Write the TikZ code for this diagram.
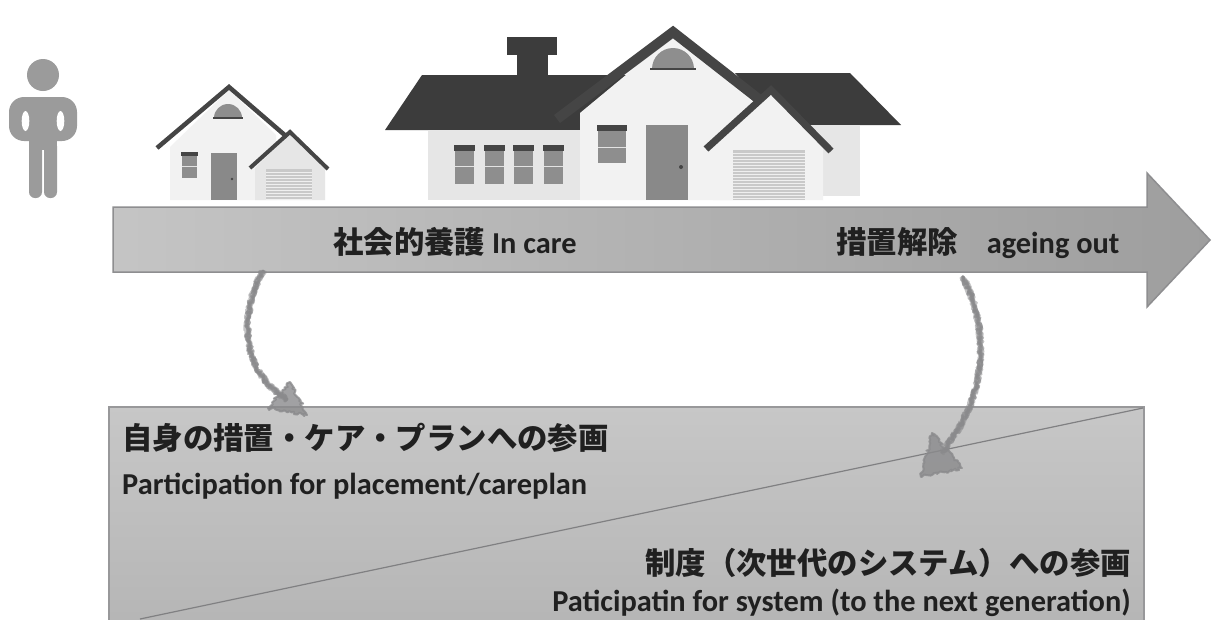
\documentclass[tikz,border=0pt]{standalone}
\usepackage{fontspec}
\setmainfont{Carlito}
\newfontfamily\jp{Noto Sans CJK JP}
\usetikzlibrary{decorations.pathmorphing}

\definecolor{inkc}{HTML}{202020}
\definecolor{personc}{HTML}{9B9B9B}
\definecolor{roofc}{HTML}{454545}
\definecolor{roofdk}{HTML}{3C3C3C}
\definecolor{wallc}{HTML}{F2F2F2}
\definecolor{walldk}{HTML}{E6E6E6}
\definecolor{winc}{HTML}{8E8E8E}
\definecolor{doorc}{HTML}{898989}
\definecolor{garc}{HTML}{C9C9C9}
\definecolor{arrowline}{HTML}{8E8E90}
\definecolor{boxline}{HTML}{98989A}
\definecolor{chalkc}{HTML}{8A8A8C}

\tikzset{
  txt/.style={font=\fontsize{30.4}{36}\selectfont\bfseries, text=inkc, inner sep=0pt},
  roofline/.style={draw=roofc, line join=miter},
  chalk/.style={draw=chalkc, line width=2.6pt, opacity=0.5, line cap=round, line join=round,
    decorate, decoration={random steps, segment length=2.2pt, amplitude=3pt}},
  chalkhead/.style={fill=chalkc, draw=chalkc, line width=2pt, opacity=0.8, line join=round,
    decorate, decoration={random steps, segment length=2pt, amplitude=1.8pt}},
}

\begin{document}
\begin{tikzpicture}[x=1pt,y=-1pt]
\useasboundingbox (0,0) rectangle (1212,619);
\fill[white] (0,0) rectangle (1212,619);

% ---------- person ----------
\fill[personc] (43,75) circle (16);
\fill[personc, rounded corners=15] (9,97) rectangle (77,141);
\fill[white] (25.5,121) ellipse (3.8 and 10);
\fill[white] (60.5,121) ellipse (3.8 and 10);
\fill[personc] (29,130) rectangle (57,150);
\fill[personc, rounded corners=6] (29,140) rectangle (42,198);
\fill[personc, rounded corners=6] (44,140) rectangle (57,198);

% ---------- small house ----------
\fill[wallc] (170,200) -- (170,147) -- (229,90) -- (276,135) -- (276,200) -- cycle;
\fill[walldk] (255,200) -- (255,168) -- (290,134) -- (325,168) -- (325,200) -- cycle;
\draw[roofline, line width=4.5] (157,148) -- (229,87) -- (287,137);
\draw[roofline, line width=4] (250,168) -- (290,132) -- (328,169);
\fill[winc] (214,118) arc (180:360:14) -- cycle;
\draw[roofc, line width=2] (213,118) -- (243,118);
\fill[winc] (182,155) rectangle (197,178);
\draw[white!75!winc, line width=0.8] (182,166) -- (197,166);
\fill[roofc] (181,152) rectangle (198,156);
\fill[doorc] (211,153) rectangle (237,200);
\fill[roofc] (232,179) circle (1.4);
\fill[garc] (266,169) rectangle (312,200);
\foreach \yy in {172,175,...,199} \draw[white!70!garc, line width=0.6] (266,\yy) -- (312,\yy);

% ---------- large house ----------
\fill[roofdk] (385,130) -- (422,75) -- (645,75) -- (605,130) -- cycle;
\fill[roofdk] (735,73) -- (850,73) -- (901,125) -- (780,125) -- cycle;
\fill[roofdk] (517,53) rectangle (548,77);
\fill[roofdk] (507,37) rectangle (557,55);
\fill[walldk] (428,130) rectangle (582,200);
\fill[walldk] (812,125) rectangle (860,196);
\foreach \xx in {455,485,514,544} {
  \fill[winc] (\xx,150) rectangle (\xx+19,184);
  \draw[white!75!winc, line width=0.8] (\xx,166) -- (\xx+19,166);
  \fill[roofc] (\xx-1,145) rectangle (\xx+20,151);
}
\fill[wallc] (580,200) -- (580,113) -- (673,36) -- (765,112) -- (765,200) -- cycle;
\draw[roofline, line width=10] (557,119) -- (673,32) -- (765,104);
\fill[winc] (652,69) arc (180:360:21) -- cycle;
\draw[roofc, line width=2.5] (650,69) -- (696,69);
\fill[winc] (598,130) rectangle (626,163);
\draw[white!75!winc, line width=0.8] (598,147) -- (626,147);
\fill[roofc] (597,125) rectangle (627,131);
\fill[doorc] (646,125) rectangle (688,200);
\fill[roofc] (681,167) circle (2);
\fill[wallc] (713,200) -- (713,148) -- (771,94) -- (823,146) -- (823,200) -- cycle;
\draw[roofline, line width=7] (706,149) -- (771,90) -- (831,151);
\fill[garc] (733,150) rectangle (805,200);
\foreach \yy in {153,156,...,199} \draw[white!70!garc, line width=0.6] (733,\yy) -- (805,\yy);

% ---------- time arrow ----------
\path[draw=arrowline, line width=1.5, left color=black!23, right color=black!38]
  (113,207) -- (1147,207) -- (1147,173) -- (1210,240) -- (1147,307) -- (1147,272) -- (113,272) -- cycle;
\node[txt, anchor=base west] (incare) at (333,253) {{\jp 社会的養護} In care};
\node[txt, anchor=base west] (ageout) at (836,253) {{\jp 措置解除}\hspace{29pt}ageing out};

% ---------- participation box ----------
\path[draw=boxline, line width=1.5, top color=black!22, bottom color=black!29]
  (109,407) rectangle (1144,630);
\coordinate (dlow) at (140,619);
\coordinate (dhigh) at (1143,408);
\draw[arrowline!90!black, line width=1.2] (dlow) -- (dhigh);

\node[txt, anchor=base west] (own) at (122,449) {\jp 自身の措置・ケア・プランへの参画};
\node[txt, anchor=base west] (ownen) at (122,494) {Participation for placement/careplan};
\node[txt, anchor=base east] (sys) at (1131,574) {\jp 制度（次世代のシステム）への参画};
\node[txt, anchor=base east] (sysen) at (1131,611) {Paticipatin for system (to the next generation)};

% ---------- chalk arrows ----------
\coordinate (l0) at (263,271);
\coordinate (l1) at (287,399);
\coordinate (r0) at (963,277);
\coordinate (r1) at (942,452);
\pgfmathsetseed{11}
\foreach \k in {1,...,7} {
  \draw[chalk] (l0) .. controls (236,320) and (245,375) .. (l1);
  \draw[chalk] (r0) .. controls (992,335) and (985,400) .. (r1);
}
\path[chalkhead] (290,382) -- (307,415) -- (268,408) -- cycle;
\path[chalkhead] (932,433) -- (962,468) -- (921,477) -- cycle;
\end{tikzpicture}
\end{document}
